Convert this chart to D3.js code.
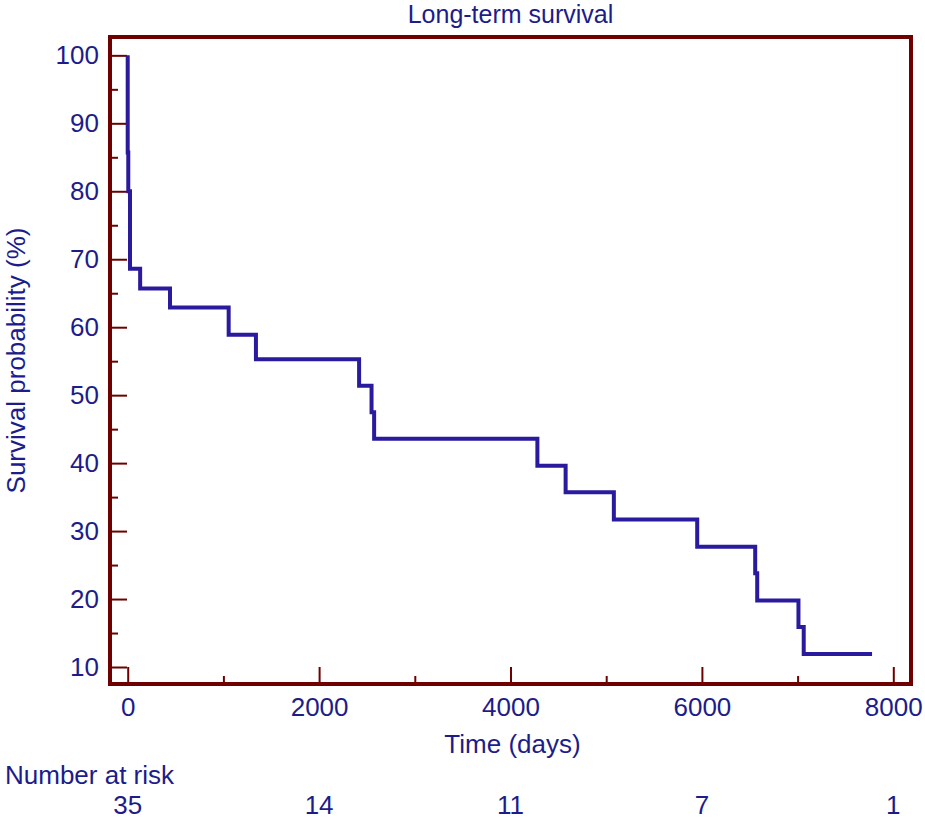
<!DOCTYPE html>
<html lang="en">
<head>
<meta charset="utf-8">
<title>Long-term survival</title>
<script src="https://d3js.org/d3.v7.min.js"></script>
<style>
  body { margin: 0; background: #fff; }
  text { font-family: "Liberation Sans", Arial, sans-serif; }
</style>
</head>
<body>
<script>
// Kaplan-Meier steps: survival (%) after each event time (days)
var startSurvival = 100;
var eventTimes = [0, 6, 24, 130, 442, 1055, 1340, 2418, 2548, 2575, 4281, 4576, 5080, 5951, 6557, 6578, 7009, 7064];
var survivalAfter = [85.7, 80.0, 68.6, 65.7, 62.9, 58.9, 55.3, 51.4, 47.5, 43.6, 39.6, 35.7, 31.7, 27.7, 23.8, 19.8, 15.9, 11.9];
var lastTime = 7778;

var xTicks = [0, 2000, 4000, 6000, 8000];
var xMinorTicks = [1000, 3000, 5000, 7000];
var yTicks = [10, 20, 30, 40, 50, 60, 70, 80, 90, 100];
var yMinorTicks = [15, 25, 35, 45, 55, 65, 75, 85, 95];
var atRiskTimes = [0, 2000, 4000, 6000, 8000];
var atRiskCounts = [35, 14, 11, 7, 1];

var w = 925, h = 819;
// plot frame (note: "top" is reserved on window, so use pTop etc.)
var pLeft = 110, pRight = 911, pTop = 37, pBottom = 684;
var textColor = "#1c1c8a";
var frameColor = "#6e0000";
var lineColor = "#2a1a9e";
var fs = 26;

var xScale = d3.scaleLinear().domain([-185, 8185]).range([pLeft, pRight]);
var yScale = d3.scaleLinear().domain([7.5, 102.7]).range([pBottom, pTop]);

var svg = d3.select("body").append("svg")
  .attr("width", w)
  .attr("height", h);

// y axis (ticks point inward)
svg.append("g")
  .attr("transform", "translate(" + pLeft + ",0)")
  .call(d3.axisLeft(yScale).tickValues(yTicks).tickSize(-17).tickPadding(11).tickFormat(d => d));
svg.append("g")
  .attr("transform", "translate(" + pLeft + ",0)")
  .call(d3.axisLeft(yScale).tickValues(yMinorTicks).tickSize(-8).tickFormat(""));

// x axis
svg.append("g")
  .attr("transform", "translate(0," + pBottom + ")")
  .call(d3.axisBottom(xScale).tickValues(xTicks).tickSize(-17).tickPadding(13.5).tickFormat(d => d));
svg.append("g")
  .attr("transform", "translate(0," + pBottom + ")")
  .call(d3.axisBottom(xScale).tickValues(xMinorTicks).tickSize(-8).tickFormat(""));

svg.selectAll(".domain").remove();
svg.selectAll(".tick line")
  .attr("stroke", frameColor)
  .attr("stroke-width", 2);
svg.selectAll(".tick text")
  .attr("fill", textColor)
  .style("font-size", fs + "px")
  .style("font-family", "'Liberation Sans', Arial, sans-serif");

// survival step line
var pts = [[0, startSurvival]];
var prev = startSurvival;
eventTimes.forEach(function(t, i) {
  pts.push([t, prev]);
  pts.push([t, survivalAfter[i]]);
  prev = survivalAfter[i];
});
pts.push([lastTime, prev]);

var line = d3.line()
  .x(d => xScale(d[0]))
  .y(d => yScale(d[1]));

svg.append("path")
  .datum(pts)
  .attr("d", line)
  .attr("fill", "none")
  .attr("stroke", lineColor)
  .attr("stroke-width", 4)
  .attr("stroke-linejoin", "miter")
  .attr("stroke-linecap", "butt");

// frame
svg.append("rect")
  .attr("x", pLeft)
  .attr("y", pTop)
  .attr("width", pRight - pLeft)
  .attr("height", pBottom - pTop)
  .attr("fill", "none")
  .attr("stroke", frameColor)
  .attr("stroke-width", 4);

// title
svg.append("text")
  .attr("x", (pLeft + pRight) / 2)
  .attr("y", 23)
  .attr("text-anchor", "middle")
  .attr("fill", textColor)
  .style("font-size", "25px")
  .text("Long-term survival");

// x axis title
svg.append("text")
  .attr("x", (pLeft + pRight) / 2 + 2)
  .attr("y", 753)
  .attr("text-anchor", "middle")
  .attr("fill", textColor)
  .style("font-size", fs + "px")
  .text("Time (days)");

// y axis title
svg.append("text")
  .attr("transform", "translate(25," + ((pTop + pBottom) / 2) + ") rotate(-90)")
  .attr("text-anchor", "middle")
  .attr("fill", textColor)
  .style("font-size", fs + "px")
  .text("Survival probability (%)");

// number at risk
svg.append("text")
  .attr("x", 5)
  .attr("y", 784)
  .attr("fill", textColor)
  .style("font-size", fs + "px")
  .text("Number at risk");

svg.selectAll("text.risk")
  .data(atRiskCounts)
  .enter()
  .append("text")
  .attr("class", "risk")
  .attr("x", (d, i) => xScale(atRiskTimes[i]))
  .attr("y", 814)
  .attr("text-anchor", "middle")
  .attr("fill", textColor)
  .style("font-size", fs + "px")
  .text(d => d);
</script>
</body>
</html>
